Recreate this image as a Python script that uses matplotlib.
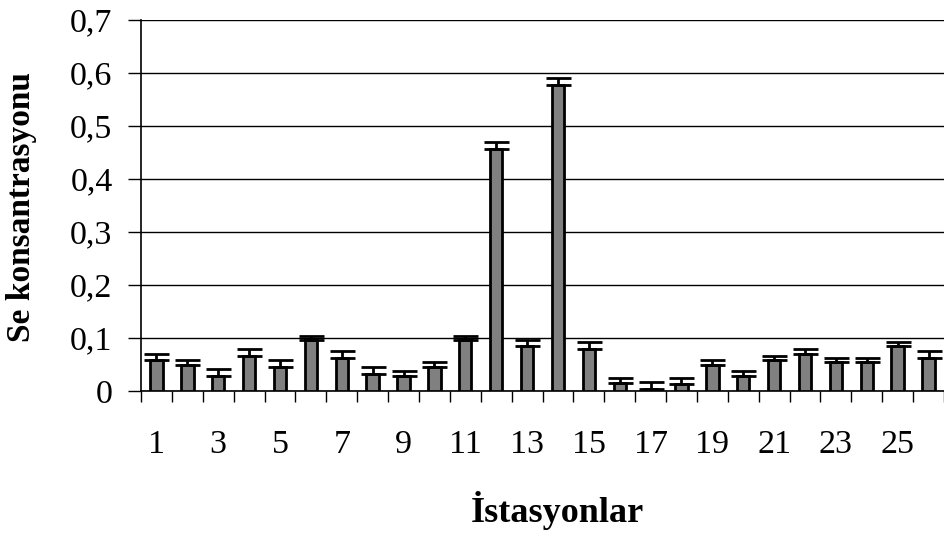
import numpy as np
import matplotlib.pyplot as plt
from matplotlib.ticker import MultipleLocator, FixedLocator, FuncFormatter

# station numbers and Se concentration (mean + upper error)
stations = list(range(1, 27))
se_values = [0.058, 0.050, 0.029, 0.067, 0.046, 0.096, 0.062, 0.033, 0.029, 0.045,
             0.096, 0.456, 0.084, 0.578, 0.079, 0.016, 0.004, 0.013, 0.050, 0.029,
             0.058, 0.070, 0.054, 0.054, 0.084, 0.062]
se_err = [0.012, 0.008, 0.012, 0.012, 0.012, 0.008, 0.013, 0.012, 0.008, 0.009,
          0.008, 0.013, 0.012, 0.013, 0.013, 0.009, 0.013, 0.012, 0.008, 0.009,
          0.009, 0.009, 0.008, 0.008, 0.008, 0.013]
tick_labels = [str(s) if s % 2 == 1 else "" for s in stations]

plt.rcParams['font.family'] = ['Liberation Serif', 'DejaVu Serif']

fig = plt.figure(figsize=(9.44, 5.38), dpi=100)
ax = fig.add_axes([0.1494, 0.2732, 0.8506, 0.6896])

x = np.array(stations)
ax.bar(x, se_values, width=0.4, color='#808080', edgecolor='black', linewidth=2, zorder=3)
ax.errorbar(x, se_values, yerr=[np.zeros(len(se_err)), se_err], fmt='none',
            ecolor='black', elinewidth=2, capsize=9, capthick=2, zorder=4)

ax.set_xlim(0.5, 26.5)
ax.set_ylim(0, 0.7)
ax.yaxis.set_major_locator(MultipleLocator(0.1))
ax.yaxis.set_major_formatter(FuncFormatter(lambda v, p: ('%.1f' % v).replace('.', ',') if v > 0 else '0'))
ax.grid(axis='y', color='black', linewidth=1, zorder=0)

# boundaries ticks, labels at centres
ax.xaxis.set_major_locator(FixedLocator(np.arange(0.5, 27, 1)))
ax.xaxis.set_major_formatter(FuncFormatter(lambda v, p: ''))
ax.xaxis.set_minor_locator(FixedLocator(x))
ax.set_xticklabels(tick_labels, minor=True)
ax.tick_params(axis='x', which='major', direction='out', length=8, width=1)
ax.tick_params(axis='x', which='minor', length=0, pad=28, labelsize=24.5)
ax.tick_params(axis='y', direction='out', length=9.5, width=1, pad=11, labelsize=24.5)

for s in ['top', 'right']:
    ax.spines[s].set_visible(False)
ax.spines['left'].set_linewidth(1.2)
ax.spines['bottom'].set_linewidth(1.2)

fig.text(0.0233, 0.6143, 'Se konsantrasyonu', rotation=90, ha='center', va='center',
         fontsize=24, fontweight='bold')
fig.text(0.59, 0.0297, 'İstasyonlar', ha='center', va='baseline',
         fontsize=26, fontweight='bold')

fig.savefig('out.png', dpi=100)
